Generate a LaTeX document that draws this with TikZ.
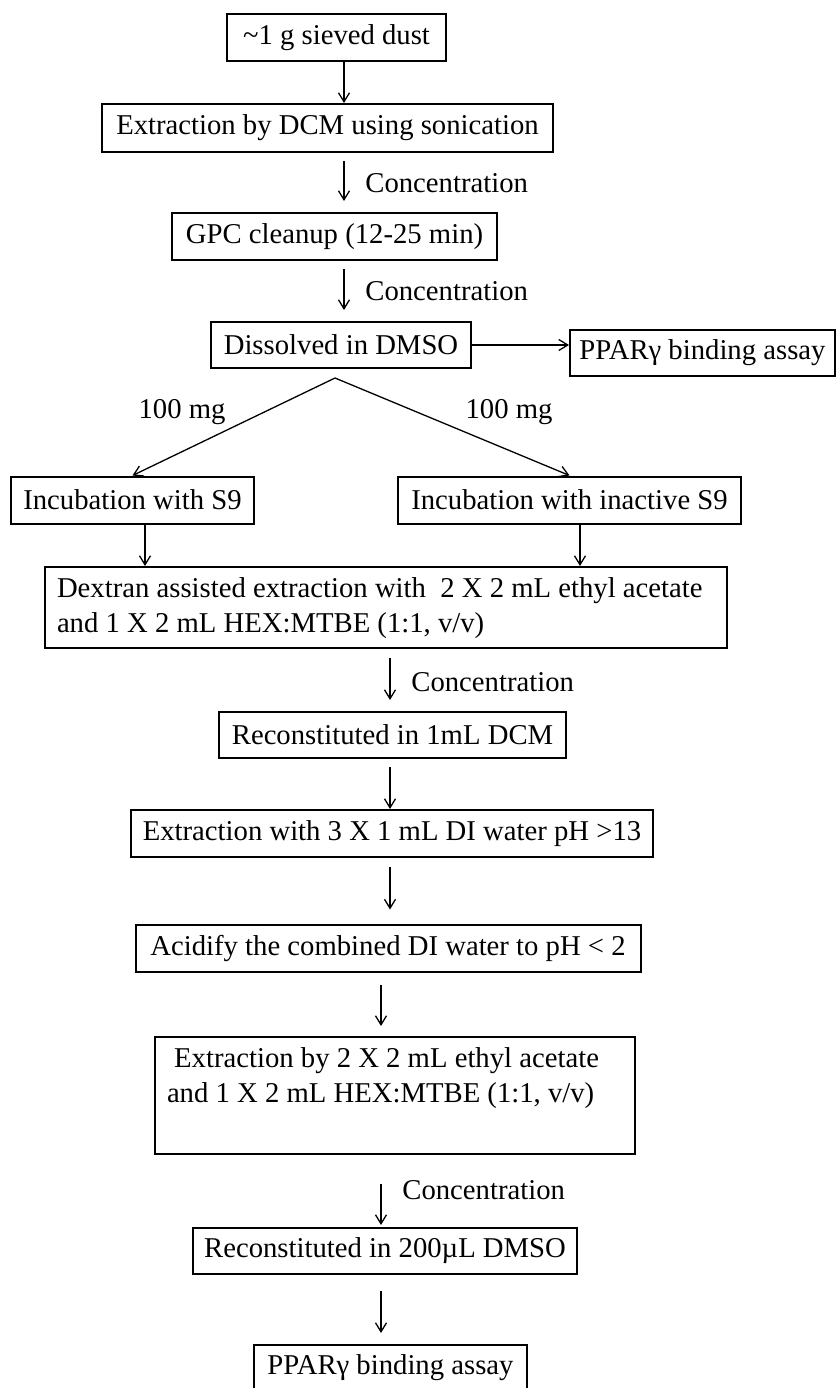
\documentclass[tikz,border=0pt]{standalone}
\usepackage{fontspec}
\setmainfont{Liberation Serif}
\usetikzlibrary{arrows.meta}
\begin{document}
\begin{tikzpicture}[x=0.5pt,y=-0.5pt,
  box/.style={draw, line width=1pt, inner sep=0pt, font=\fontsize{14.35pt}{17.5pt}\selectfont},
  lbl/.style={inner sep=0pt, font=\fontsize{14.35pt}{17.5pt}\selectfont},
  arr/.style={line width=0.65pt, -{Straight Barb[length=4.5pt,width=5.5pt]}}]
\useasboundingbox (0,0) rectangle (836,1388);
% column guides
\coordinate (cA) at (344,0);
\coordinate (cL) at (145,0);
\coordinate (cR) at (580,0);
\coordinate (cM) at (390,0);
\coordinate (cN) at (381,0);
\coordinate (apex) at (335,378);
% boxes
\node[box, minimum width=109.5pt, minimum height=23.5pt] (b1) at (336.5,37.5) {\textasciitilde 1 g sieved dust};
\node[box, minimum width=225.5pt, minimum height=24pt] (b2) at (327.5,128) {Extraction by DCM using sonication};
\node[box, minimum width=162.5pt, minimum height=23.5pt] (b3) at (334.5,236.5) {GPC cleanup (12-25 min)};
\node[box, minimum width=130pt, minimum height=23pt] (b4) at (341,345) {Dissolved in DMSO};
\node[box, minimum width=132.5pt, minimum height=23pt] (b5) at (702.5,353) {PPARγ binding assay};
\node[box, minimum width=121.5pt, minimum height=23.5pt] (b6) at (132.5,500) {Incubation with S9};
\node[box, minimum width=171.5pt, minimum height=23.5pt] (b7) at (569.5,500) {Incubation with inactive S9};
\node[box, minimum width=341pt, minimum height=40.5pt] (b8) at (386,607.5)
  {\makebox[329pt][l]{\begin{tabular}{@{}l@{}}Dextran assisted extraction with\ \ 2 X 2 mL ethyl acetate\\and 1 X 2 mL HEX:MTBE (1:1, v/v)\end{tabular}}};
\node[box, minimum width=173.5pt, minimum height=23pt] (b9) at (392.5,735) {Reconstituted in 1mL DCM};
\node[box, minimum width=261pt, minimum height=23.5pt] (b10) at (392,833.5) {Extraction with 3 X 1 mL DI water pH >13};
\node[box, minimum width=252.5pt, minimum height=23.5pt] (b11) at (388,948) {Acidify the combined DI water to pH < 2};
\node[box, minimum width=240pt, minimum height=58.5pt] (b12) at (395,1095.5)
  {\makebox[228pt][l]{\begin{tabular}{@{}l@{}}\hspace*{3.6pt}Extraction by 2 X 2 mL ethyl acetate\\and 1 X 2 mL HEX:MTBE (1:1, v/v)\\\mbox{}\end{tabular}}};
\node[box, minimum width=192pt, minimum height=23pt] (b13) at (385,1251) {Reconstituted in 200µL DMSO};
\node[box, minimum width=136.5pt, minimum height=23pt] (b14) at (390.5,1368) {PPARγ binding assay};
% labels
\node[lbl, anchor=west] (l1) at (365,183) {Concentration};
\node[lbl, anchor=west] (l2) at (365,291) {Concentration};
\node[lbl, anchor=west] (l3) at (411,682) {Concentration};
\node[lbl, anchor=west] (l4) at (402,1190) {Concentration};
\node[lbl] (m1) at (182,412) {100 mg};
\node[lbl] (m2) at (509,412) {100 mg};
% connectors
\draw[arr] (b1.south -| cA) -- (b2.north -| cA);
\draw[arr, shorten <=4pt, shorten >=5.5pt] (b2.south -| cA) -- (b3.north -| cA);
\draw[arr, shorten <=4pt, shorten >=5.5pt] (b3.south -| cA) -- (b4.north -| cA);
\draw[arr] (b4.east) -- (b4.east -| b5.west);
\draw[arr] (apex) -- (b6.north);
\draw[arr] (apex) -- (b7.north);
\draw[arr] (b6.south -| cL) -- (b8.north -| cL);
\draw[arr] (b7.south -| cR) -- (b8.north -| cR);
\draw[arr, shorten <=4.5pt, shorten >=5.5pt] (b8.south -| cM) -- (b9.north -| cM);
\draw[arr, shorten <=4pt] (b9.south -| cM) -- (b10.north -| cM);
\draw[arr, shorten <=4.5pt, shorten >=7pt] (b10.south -| cM) -- (b11.north -| cM);
\draw[arr, shorten <=6pt, shorten >=5pt] (b11.south -| cN) -- (b12.north -| cN);
\draw[arr, shorten <=14.5pt, shorten >=1pt] (b12.south -| cN) -- (b13.north -| cN);
\draw[arr, shorten <=8pt, shorten >=5.5pt] (b13.south -| cN) -- (b14.north -| cN);
\end{tikzpicture}
\end{document}
